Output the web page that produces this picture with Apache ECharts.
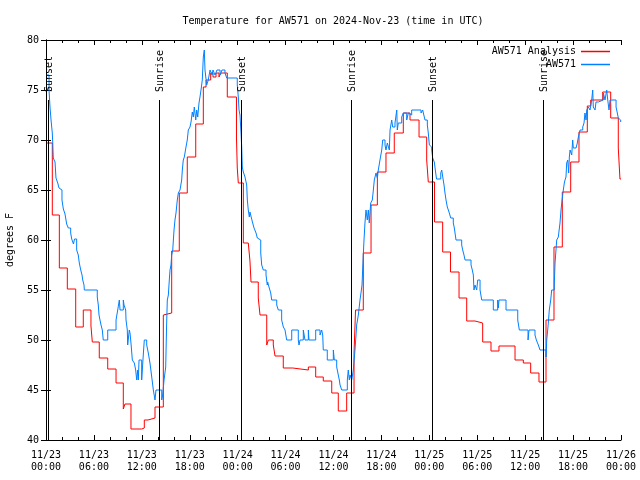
<!DOCTYPE html>
<html>
<head>
<meta charset="utf-8">
<script src="https://cdn.jsdelivr.net/npm/echarts@6/dist/echarts.min.js"></script>
<style>html,body{margin:0;padding:0;background:#fff}#c{width:640px;height:480px}</style>
</head>
<body>
<div id="c"></div>
<script>
// Hours since 2024-11-23 00:00 UTC
const xTickDates = ['11/23','11/23','11/23','11/23','11/24','11/24','11/24','11/24','11/25','11/25','11/25','11/25','11/26'];
const xTickTimes = ['00:00','06:00','12:00','18:00','00:00','06:00','12:00','18:00','00:00','06:00','12:00','18:00','00:00'];

const analysisHours = [0.08,0.79,1.67,2.67,3.72,4.67,5.63,5.80,6.67,7.73,8.77,9.68,9.89,10.64,11.98,12.31,12.77,13.65,14.69,14.90,15.74,16.69,17.69,18.75,19.70,20.04,20.62,20.91,21.29,21.66,21.91,22.70,23.85,23.95,24.08,24.71,25.33,25.54,25.67,26.58,26.80,27.64,27.84,28.46,28.68,29.71,30.89,32.85,33.77,34.72,35.78,36.60,37.65,38.57,38.76,39.73,40.70,41.49,42.57,43.61,44.74,45.58,46.71,47.67,47.87,48.65,49.67,50.65,51.72,52.68,53.72,54.68,55.72,56.72,58.73,59.77,60.69,61.73,62.61,63.61,64.65,65.70,66.74,67.78,68.21,69.71,70.71,71.66,71.87,72.0];
const analysisTemps = [69.7,62.5,57.2,55.1,51.3,53.0,51.4,49.8,48.2,47.1,45.7,43.1,43.6,41.1,41.2,42.0,42.2,43.3,52.5,52.7,58.9,64.7,68.3,71.6,75.3,76.0,76.7,76.3,76.7,76.3,76.7,74.3,70.2,67.2,65.7,59.7,59.8,57.9,55.8,54.2,52.5,49.5,50.0,49.5,48.4,47.2,47.0,47.3,46.3,45.9,44.7,42.9,44.7,48.7,53.0,58.7,63.5,66.8,68.7,70.7,72.7,72.0,70.3,68.0,65.8,61.8,58.8,56.8,54.2,51.9,51.7,49.8,48.9,49.4,48.0,47.7,46.7,45.8,52.0,59.3,64.8,67.8,70.8,73.4,74.0,74.8,72.2,69.2,66.1,66.1];

const obsHours = [0.09,0.38,0.50,0.63,0.79,0.84,0.91,1.13,1.25,1.47,1.63,1.84,2.00,2.17,2.38,2.59,2.79,3.09,3.22,3.44,3.57,3.84,4.04,4.17,4.35,4.51,4.60,4.76,4.80,6.42,6.55,6.64,6.76,6.89,7.05,7.17,7.73,8.77,8.98,9.18,9.27,9.68,9.77,9.98,10.02,10.18,10.23,10.43,10.52,10.64,10.81,11.06,11.23,11.36,11.48,11.56,11.65,11.98,12.18,12.31,12.61,12.81,13.02,13.24,13.44,13.65,13.77,14.49,14.61,14.78,14.99,15.06,15.11,15.19,15.32,15.44,15.53,15.65,15.74,15.87,16.03,16.15,16.28,16.44,16.57,16.78,16.99,17.07,17.19,17.32,17.53,17.69,17.82,18.03,18.16,18.32,18.45,18.57,18.75,18.87,19.00,19.16,19.28,19.41,19.57,19.70,19.82,19.91,20.12,20.32,20.54,20.79,20.91,21.16,21.41,21.79,22.04,22.41,22.63,23.95,24.08,24.17,24.29,24.42,24.51,24.58,24.71,24.92,25.13,25.21,25.33,25.46,25.54,25.63,25.88,26.05,26.30,26.46,26.61,26.89,27.01,27.21,27.55,27.71,27.76,27.92,28.14,28.26,28.89,29.09,29.51,29.72,29.93,30.14,30.77,31.59,31.68,31.81,32.22,32.43,32.85,32.93,33.77,34.31,34.52,34.65,34.72,35.22,35.98,36.10,36.40,36.60,36.73,36.82,37.03,37.73,37.85,37.98,38.07,38.28,38.48,38.69,38.82,38.90,39.11,39.32,39.44,39.57,39.73,39.82,39.94,40.07,40.23,40.36,40.48,40.66,40.86,40.99,41.11,41.32,41.49,41.61,41.82,42.04,42.16,42.45,42.57,42.74,42.99,43.08,43.29,43.41,43.70,43.92,43.99,44.11,44.54,44.74,45.17,45.37,45.58,45.79,46.96,47.17,47.25,47.46,47.75,47.87,48.00,48.17,48.30,48.42,48.62,48.75,48.90,49.43,49.55,49.68,49.84,49.96,50.09,50.25,50.38,50.50,50.68,51.00,51.13,51.34,52.05,52.18,52.34,52.47,53.22,53.38,53.51,53.59,53.72,53.93,54.06,54.35,54.56,56.01,56.56,56.64,56.72,57.60,59.07,59.27,60.36,60.48,61.23,61.40,61.65,61.86,62.61,62.70,62.82,62.90,63.02,63.20,63.32,63.65,63.74,63.86,63.95,64.15,64.36,64.49,64.62,64.78,64.90,64.99,65.11,65.20,65.33,65.45,65.53,65.62,65.83,65.95,66.03,66.37,66.53,66.66,66.87,67.21,67.37,67.49,67.62,67.71,67.91,68.12,68.33,68.46,68.53,68.75,68.87,69.16,69.79,70.00,70.21,70.34,70.50,70.63,71.38,71.54,71.66,71.79,71.96,72.0];
const obsTemps = [76.5,75.0,73.3,72.0,70.7,69.8,68.2,67.8,66.2,65.7,65.2,65.0,64.0,63.1,62.6,61.6,61.2,60.7,60.1,59.6,60.1,59.0,58.5,57.7,57.0,56.5,56.0,55.5,55.0,54.3,53.5,52.5,52.0,51.5,51.0,50.0,51.0,52.0,53.0,54.0,53.0,54.0,53.5,53.0,52.0,51.0,49.5,51.0,50.7,49.7,48.0,47.7,47.0,46.0,47.0,46.0,48.0,46.0,48.5,50.0,49.5,48.7,47.7,46.3,45.0,44.0,45.0,44.0,44.5,46.0,47.3,50.0,51.7,54.0,54.5,56.0,57.0,57.5,58.5,59.0,61.0,62.0,62.7,64.0,64.7,65.0,66.0,67.0,68.0,68.3,69.3,70.0,71.0,71.3,71.8,72.8,72.3,73.3,72.0,73.0,72.3,73.7,74.3,75.0,76.0,78.3,79.0,77.0,75.5,76.0,77.0,76.5,77.0,76.5,77.0,76.5,77.0,76.7,76.2,75.5,74.3,73.0,72.5,70.7,69.2,67.3,66.8,66.3,65.5,64.0,63.0,62.3,62.8,62.5,61.7,61.2,60.7,60.2,60.0,58.7,57.5,57.0,56.5,55.5,55.8,55.3,54.7,54.0,53.5,53.0,52.0,51.3,51.0,50.0,51.0,50.0,49.5,50.0,51.0,50.0,51.0,50.0,51.0,50.5,51.0,50.5,49.0,48.0,49.0,48.0,47.3,46.5,46.0,45.5,45.0,46.0,47.0,46.0,46.5,46.0,47.0,49.0,50.5,51.5,52.5,54.0,54.7,55.5,58.5,60.0,61.7,63.0,62.0,63.0,61.7,63.7,64.0,65.0,66.0,66.7,66.2,67.0,68.0,69.0,70.0,69.5,69.0,69.7,69.0,71.0,72.0,71.3,71.7,73.0,71.0,71.7,72.3,72.7,72.0,72.7,72.5,73.0,72.7,73.0,72.7,72.0,71.5,70.7,69.5,69.3,69.0,68.2,67.8,67.0,66.1,66.7,67.0,66.3,65.5,64.7,64.0,63.3,63.0,62.7,62.2,61.7,61.2,60.0,59.5,59.0,58.5,58.0,57.5,57.0,56.5,55.0,55.5,55.0,56.0,55.0,54.0,53.0,54.0,53.2,54.0,53.0,52.0,51.0,50.0,51.0,50.5,50.0,49.5,49.0,48.3,50.0,51.0,51.7,53.0,54.0,55.0,55.7,57.7,59.0,60.0,60.3,61.7,63.0,64.0,65.0,65.7,66.0,66.3,67.7,68.0,66.7,68.3,69.0,68.5,70.0,69.2,69.0,69.7,70.3,71.0,71.3,71.7,72.7,72.0,73.0,73.3,73.0,74.0,75.0,73.3,73.0,73.8,74.0,74.7,74.0,75.0,74.0,73.0,74.0,73.3,72.7,72.2,72.0,71.8,71.8];

const sunHours = [0.25,14.19,24.38,38.19,48.30,62.27];
const sunLabels = ['Sunset','Sunrise','Sunset','Sunrise','Sunset','Sunrise'];

const FONT = '"DejaVu Sans Mono", "Liberation Mono", monospace';
const chart = echarts.init(document.getElementById('c'), null, {renderer: 'canvas'});

const xCommon = {type: 'value', min: 0, max: 72, interval: 6};
chart.setOption({
  animation: false,
  backgroundColor: '#ffffff',
  title: {
    text: 'Temperature for AW571 on 2024-Nov-23 (time in UTC)',
    left: 328, textAlign: 'center', top: 11,
    textStyle: {fontFamily: FONT, fontSize: 10, fontWeight: 'normal', color: '#000'}
  },
  legend: {
    orient: 'vertical', right: 25, top: 41, align: 'right',
    itemWidth: 29, itemHeight: 1.5, itemGap: 2, icon: 'rect',
    textStyle: {fontFamily: FONT, fontSize: 10, color: '#000', lineHeight: 11},
    data: ['AW571 Analysis', 'AW571']
  },
  grid: {left: 46, right: 19, top: 40, bottom: 40, containLabel: false, outerBoundsMode: 'none'},
  xAxis: [
    Object.assign({}, xCommon, {
      position: 'bottom',
      axisLine: {lineStyle: {color: '#000', width: 1}},
      axisTick: {inside: true, length: 5, lineStyle: {color: '#000'}},
      minorTick: {show: true, splitNumber: 3, length: 3, lineStyle: {color: '#000'}},
      splitLine: {show: false},
      axisLabel: {
        fontFamily: FONT, fontSize: 10, color: '#000', margin: 9, lineHeight: 12,
        formatter: v => { const i = Math.round(v / 6); return xTickDates[i] + '\n' + xTickTimes[i]; }
      }
    }),
    Object.assign({}, xCommon, {
      position: 'top',
      axisLine: {lineStyle: {color: '#000', width: 1}},
      axisTick: {inside: true, length: 5, lineStyle: {color: '#000'}},
      minorTick: {show: true, splitNumber: 3, length: 3, lineStyle: {color: '#000'}},
      splitLine: {show: false},
      axisLabel: {show: false}
    })
  ],
  yAxis: [
    {
      type: 'value', min: 40, max: 80, interval: 5, position: 'left',
      name: 'degrees F', nameLocation: 'middle', nameGap: 31, nameRotate: 90,
      nameTextStyle: {fontFamily: FONT, fontSize: 10, color: '#000'},
      axisLine: {show: true, lineStyle: {color: '#000', width: 1}},
      axisTick: {show: true, inside: true, length: 5, lineStyle: {color: '#000'}},
      splitLine: {show: false},
      axisLabel: {fontFamily: FONT, fontSize: 10, color: '#000', margin: 7}
    },
    {
      type: 'value', min: 40, max: 80, interval: 5, position: 'right',
      axisLine: {show: true, lineStyle: {color: '#000', width: 1}},
      axisTick: {show: true, inside: true, length: 5, lineStyle: {color: '#000'}},
      splitLine: {show: false},
      axisLabel: {show: false}
    }
  ],
  series: [
    {
      name: 'AW571 Analysis', type: 'line', step: 'end', showSymbol: false,
      color: '#ff0000', lineStyle: {width: 1, color: '#ff0000'}, z: 2,
      data: analysisHours.map((h, i) => [h, analysisTemps[i]])
    },
    {
      name: 'AW571', type: 'line', step: 'end', showSymbol: false,
      color: '#0080ff', lineStyle: {width: 1, color: '#0080ff'}, z: 3,
      data: obsHours.map((h, i) => [h, obsTemps[i]])
    },
    {
      name: 'sun', type: 'custom', z: 4, silent: true,
      data: sunHours.map(h => [h, 40]),
      renderItem: (params, api) => {
        const h = api.value(0);
        const p0 = api.coord([h, 40]);
        const p1 = api.coord([h, 74]);
        const x = Math.round(p0[0]) + 0.5;
        return {
          type: 'group',
          children: [
            {type: 'line', shape: {x1: x, y1: p0[1], x2: x, y2: p1[1]}, style: {stroke: '#000', lineWidth: 1}},
            {type: 'text', x: x + 1, y: p1[1] - 8, rotation: Math.PI / 2,
             style: {text: sunLabels[params.dataIndex], x: 0, y: 0, fill: '#000', font: '10px ' + FONT, align: 'left', verticalAlign: 'middle'}}
          ]
        };
      }
    }
  ]
});
</script>
</body>
</html>
